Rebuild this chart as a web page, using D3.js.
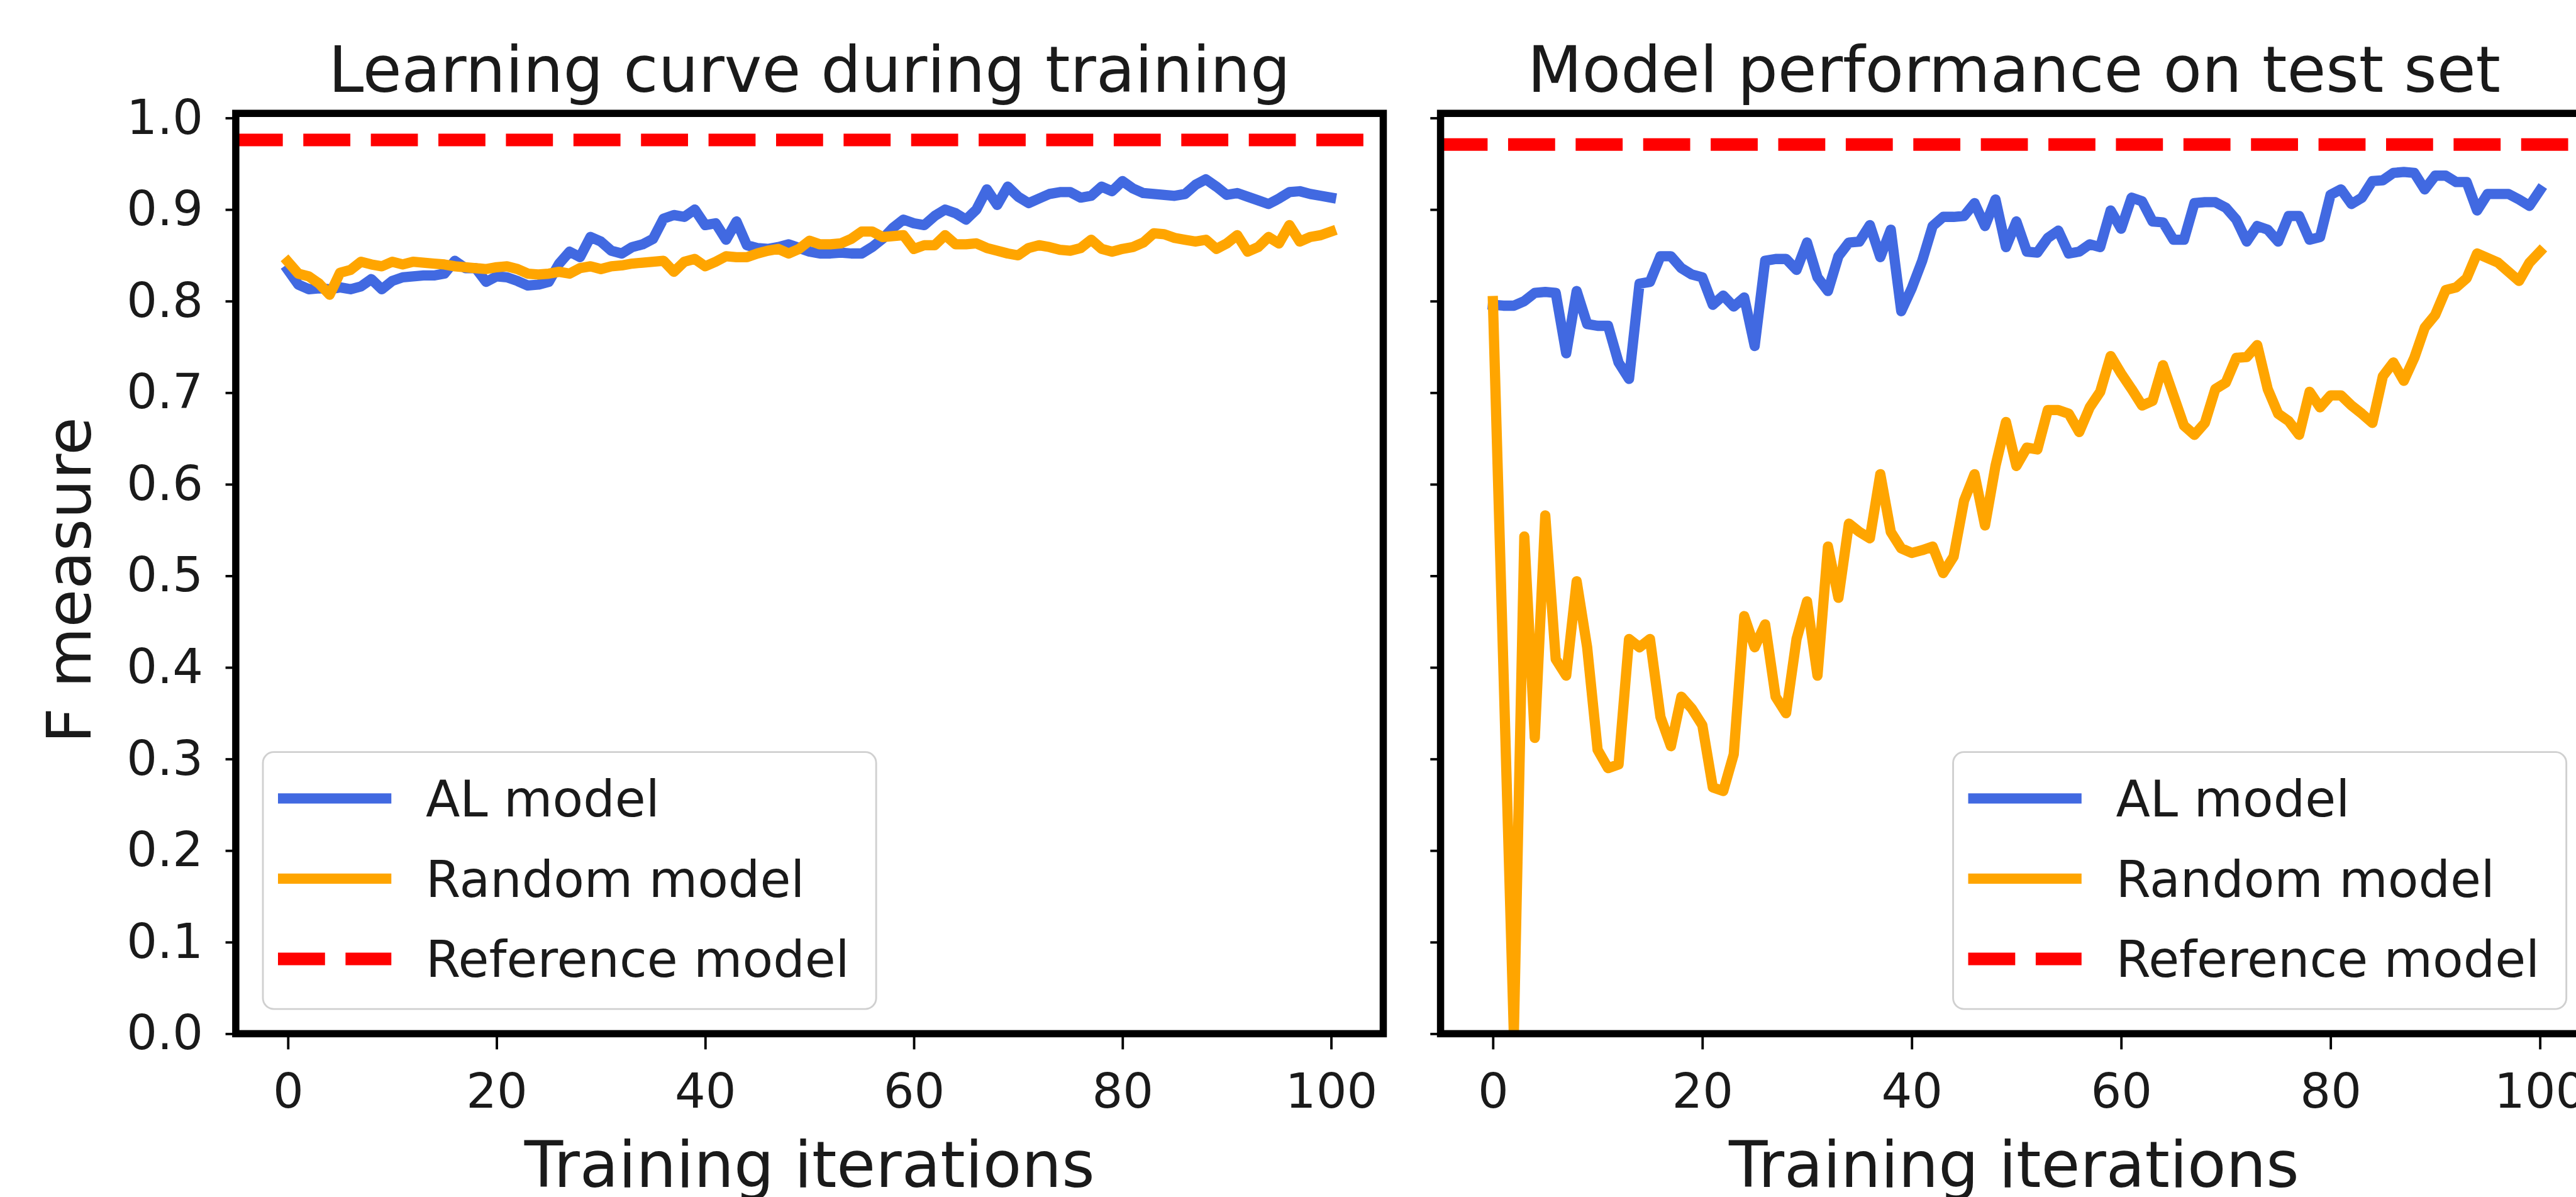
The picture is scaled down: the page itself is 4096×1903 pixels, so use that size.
<!DOCTYPE html>
<html><head><meta charset="utf-8">
<script src="https://cdn.jsdelivr.net/npm/d3@7"></script>
<style>html,body{margin:0;padding:0;background:#fff;overflow:hidden}</style>
</head><body>
<script>
// ---------------- data ----------------
const trainAL = [0.834,0.818,0.813,0.814,0.813,0.815,0.813,0.816,0.824,0.813,
  0.822,0.826,0.827,0.828,0.828,0.830,0.844,0.836,0.836,0.821,
  0.827,0.826,0.822,0.817,0.818,0.821,0.841,0.854,0.848,0.870,
  0.865,0.855,0.852,0.859,0.862,0.868,0.890,0.894,0.892,0.900,
  0.883,0.885,0.867,0.887,0.861,0.858,0.857,0.859,0.862,0.858,
  0.854,0.852,0.852,0.853,0.852,0.852,0.859,0.868,0.880,0.889,
  0.885,0.883,0.893,0.900,0.896,0.889,0.900,0.922,0.905,0.925,
  0.914,0.907,0.912,0.917,0.919,0.919,0.913,0.915,0.925,0.920,
  0.931,0.923,0.918,0.917,0.916,0.915,0.917,0.927,0.933,0.925,
  0.916,0.918,0.914,0.910,0.906,0.912,0.919,0.920,0.917,0.915,0.913];
const trainRandom = [0.843,0.830,0.827,0.819,0.807,0.831,0.834,0.843,0.840,0.838,
  0.843,0.840,0.843,0.842,0.841,0.840,0.838,0.837,0.836,0.835,
  0.837,0.838,0.835,0.830,0.829,0.830,0.832,0.830,0.836,0.838,
  0.835,0.838,0.839,0.841,0.842,0.843,0.844,0.832,0.843,0.846,
  0.838,0.843,0.849,0.848,0.848,0.852,0.855,0.857,0.852,0.857,
  0.866,0.862,0.862,0.863,0.868,0.876,0.876,0.870,0.871,0.872,
  0.857,0.861,0.861,0.872,0.862,0.862,0.863,0.858,0.855,0.852,
  0.850,0.858,0.861,0.859,0.856,0.855,0.858,0.867,0.857,0.854,
  0.857,0.859,0.864,0.874,0.873,0.869,0.867,0.865,0.867,0.857,
  0.863,0.872,0.854,0.859,0.870,0.863,0.883,0.865,0.870,0.872,0.876];
const testAL = [0.796,0.795,0.795,0.800,0.809,0.810,0.809,0.743,0.811,0.775,
  0.773,0.773,0.733,0.715,0.819,0.821,0.849,0.849,0.836,0.829,
  0.826,0.796,0.806,0.794,0.804,0.751,0.844,0.846,0.846,0.834,
  0.864,0.826,0.811,0.849,0.864,0.865,0.883,0.848,0.878,0.789,
  0.814,0.844,0.882,0.892,0.892,0.893,0.907,0.882,0.911,0.859,
  0.887,0.854,0.853,0.869,0.877,0.852,0.854,0.862,0.859,0.899,
  0.879,0.913,0.909,0.887,0.886,0.867,0.867,0.907,0.908,0.908,
  0.902,0.889,0.865,0.882,0.878,0.865,0.893,0.893,0.867,0.870,
  0.916,0.922,0.906,0.913,0.931,0.932,0.940,0.941,0.940,0.922,
  0.937,0.937,0.930,0.930,0.899,0.917,0.917,0.917,0.911,0.904,0.921];
const testRandom = [0.800,0.400,0.000,0.543,0.323,0.566,0.409,0.391,0.494,0.422,
  0.310,0.290,0.294,0.431,0.422,0.431,0.346,0.314,0.368,0.355,
  0.337,0.269,0.265,0.305,0.456,0.422,0.447,0.368,0.350,0.431,
  0.472,0.391,0.532,0.476,0.557,0.548,0.541,0.611,0.548,0.530,
  0.525,0.528,0.532,0.503,0.521,0.582,0.611,0.555,0.620,0.668,
  0.620,0.640,0.638,0.681,0.681,0.677,0.657,0.684,0.701,0.740,
  0.721,0.704,0.686,0.691,0.730,0.697,0.664,0.654,0.667,0.704,
  0.711,0.738,0.739,0.752,0.704,0.677,0.669,0.654,0.701,0.684,
  0.697,0.697,0.686,0.677,0.667,0.718,0.733,0.713,0.738,0.771,
  0.785,0.812,0.815,0.825,0.852,0.847,0.842,0.832,0.822,0.842,0.854];
const trainReference = 0.976;
const testReference = 0.971;
const xTicks = [0, 20, 40, 60, 80, 100];
const yTicks = [0.0, 0.1, 0.2, 0.3, 0.4, 0.5, 0.6, 0.7, 0.8, 0.9, 1.0];
const titles = ["Learning curve during training", "Model performance on test set"];
const legendLabels = ["AL model", "Random model", "Reference model"];
const xLabel = "Training iterations";
const yLabel = "F measure";

// ---------------- drawing ----------------
const S = 4096 / 4272;
const FONT = "DejaVu Sans, Liberation Sans, sans-serif";
const COL = {al: "#4169e1", rnd: "#ffa500", ref: "#ff0000"};
const svg = d3.select("body").append("svg")
  .attr("width", 4096).attr("height", 1903)
  .style("display", "block");
svg.append("rect").attr("width", 4096).attr("height", 1903).attr("fill", "#fff");
const root = svg.append("g").attr("transform", `scale(${S})`);
const defs = root.append("defs");

const TOP = 188, BOTTOM = 1714;
const panels = [
  {x0: 391, x1: 2294, al: trainAL, rnd: trainRandom, ref: trainReference, title: titles[0], labels: true, legendX: 436},
  {x0: 2389, x1: 4299, al: testAL, rnd: testRandom, ref: testReference, title: titles[1], labels: false, legendX: 3239}
];

panels.forEach((p, k) => {
  const x = d3.scaleLinear().domain([-5, 105]).range([p.x0, p.x1]);
  const y = d3.scaleLinear().domain([0, 1.005]).range([BOTTOM, TOP]);
  const g = root.append("g");
  const cid = "clip" + k;
  defs.append("clipPath").attr("id", cid).append("rect")
    .attr("x", p.x0).attr("y", TOP).attr("width", p.x1 - p.x0).attr("height", BOTTOM - TOP);

  const plot = g.append("g").attr("clip-path", `url(#${cid})`);
  const line = d3.line().x((d, i) => x(i)).y(d => y(d));
  plot.append("path").datum(p.al).attr("d", line)
    .attr("fill", "none").attr("stroke", COL.al).attr("stroke-width", 17)
    .attr("stroke-linejoin", "round").attr("stroke-linecap", "square");
  plot.append("path").datum(p.rnd).attr("d", line)
    .attr("fill", "none").attr("stroke", COL.rnd).attr("stroke-width", 17)
    .attr("stroke-linejoin", "round").attr("stroke-linecap", "square");
  plot.append("line")
    .attr("x1", p.x0).attr("x2", p.x1).attr("y1", y(p.ref)).attr("y2", y(p.ref))
    .attr("stroke", COL.ref).attr("stroke-width", 21).attr("stroke-dasharray", "78 34");

  // axes
  const xAxis = d3.axisBottom(x).tickValues(xTicks).tickSize(26).tickPadding(40).tickFormat(d3.format("d"));
  const gx = g.append("g").attr("transform", `translate(0,${BOTTOM})`).call(xAxis);
  const yAxis = d3.axisLeft(y).tickValues(yTicks).tickSize(17).tickPadding(37)
    .tickFormat(p.labels ? d3.format(".1f") : () => "");
  const gy = g.append("g").attr("transform", `translate(${p.x0},0)`).call(yAxis);
  [gx, gy].forEach(a => {
    a.select(".domain").remove();
    a.selectAll(".tick line").attr("stroke", "#000").attr("stroke-width", 4);
    a.selectAll(".tick text").attr("fill", "#1a1a1a").style("font-family", FONT).style("font-size", "80px");
  });

  // frame
  g.append("rect").attr("x", p.x0).attr("y", TOP).attr("width", p.x1 - p.x0).attr("height", BOTTOM - TOP)
    .attr("fill", "none").attr("stroke", "#000").attr("stroke-width", 12);

  // title & x label
  g.append("text").attr("x", (p.x0 + p.x1) / 2 - (k === 1 ? 4 : 0)).attr("y", 152)
    .attr("text-anchor", "middle").style("font-family", FONT).style("font-size", "105px")
    .attr("fill", "#1a1a1a").text(p.title);
  g.append("text").attr("x", (p.x0 + p.x1) / 2 - (k === 1 ? 4 : 0)).attr("y", 1968)
    .attr("text-anchor", "middle").style("font-family", FONT).style("font-size", "105px")
    .attr("fill", "#1a1a1a").text(xLabel);
  if (p.labels) {
    g.append("text").attr("transform", "translate(150,962) rotate(-90)")
      .attr("text-anchor", "middle").style("font-family", FONT).style("font-size", "103px")
      .attr("fill", "#1a1a1a").text(yLabel);
  }

  // legend
  const lg = g.append("g");
  lg.append("rect").attr("x", p.legendX).attr("y", 1247).attr("width", 1017).attr("height", 426)
    .attr("rx", 18).attr("ry", 18).attr("fill", "#fff").attr("fill-opacity", 0.8)
    .attr("stroke", "#d0d0d0").attr("stroke-width", 3);
  const rows = [1324, 1457, 1590];
  const styles = [
    {c: COL.al, w: 17, dash: null},
    {c: COL.rnd, w: 17, dash: null},
    {c: COL.ref, w: 21, dash: "78 34"}
  ];
  legendLabels.forEach((lab, j) => {
    const ln = lg.append("line").attr("x1", p.legendX + 25).attr("x2", p.legendX + 213)
      .attr("y1", rows[j]).attr("y2", rows[j]).attr("stroke", styles[j].c).attr("stroke-width", styles[j].w);
    if (styles[j].dash) ln.attr("stroke-dasharray", styles[j].dash);
    lg.append("text").attr("x", p.legendX + 270).attr("y", rows[j] + 30)
      .style("font-family", FONT).style("font-size", "83px").attr("fill", "#1a1a1a").text(lab);
  });
});
</script>
</body></html>
